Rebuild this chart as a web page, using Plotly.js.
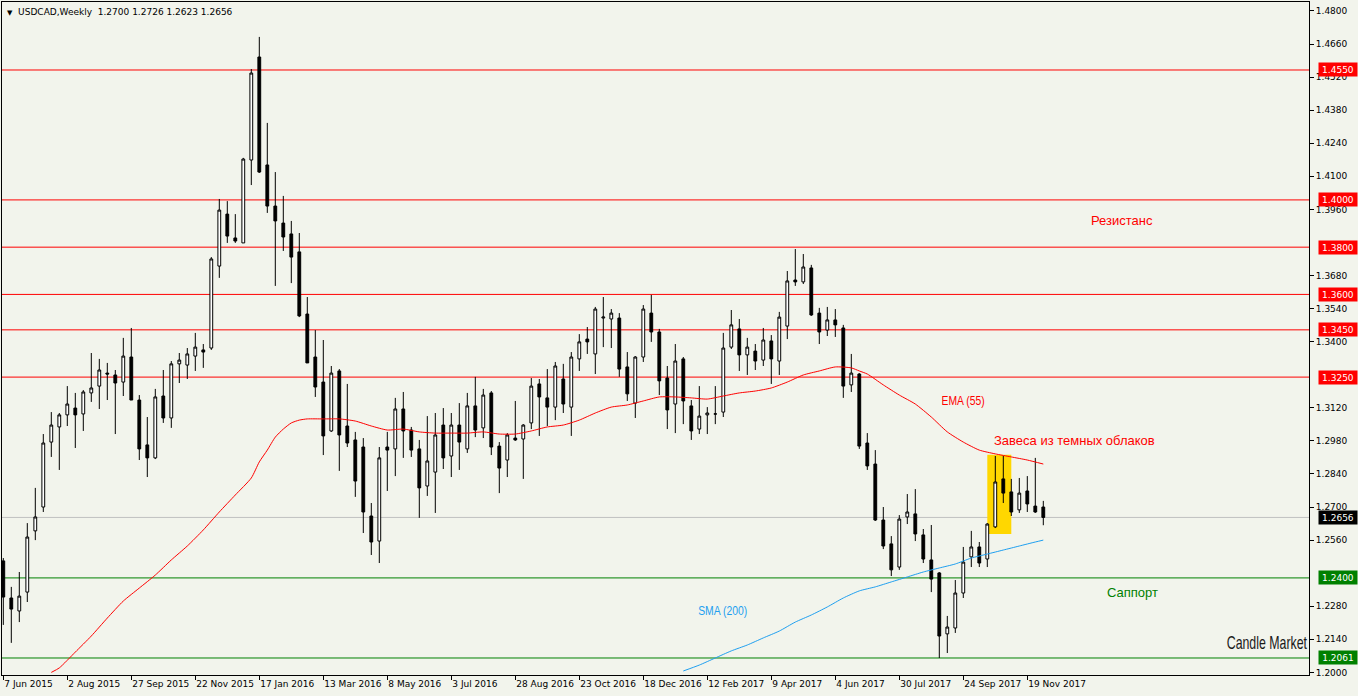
<!DOCTYPE html>
<html>
<head>
<meta charset="utf-8">
<script src="https://cdn.plot.ly/plotly-3.0.1.min.js"></script>
<style>
html,body{margin:0;padding:0;background:#F2F4EC;}
#chart{width:1358px;height:696px;}
</style>
</head>
<body>
<div id="chart"></div>
<script>
// ---- Data (weekly USDCAD candles, index 0 = week of 7 Jun 2015) ----
const opens = [
1.2472,1.2315,1.2260,1.2340,1.2599,1.2700,1.2975,1.3039,1.3090,1.3119,
1.3094,1.3183,1.3212,1.3267,1.3259,1.3229,1.3335,1.3153,1.2963,1.2908,
1.3170,1.3077,1.3306,1.3301,1.3339,1.3365,1.3373,1.3720,1.3940,1.3839,
1.3818,1.4169,1.4605,1.4148,1.3974,1.3902,1.3856,1.3780,1.3517,1.3335,
1.3229,1.3022,1.3276,1.3043,1.2984,1.2954,1.2662,1.2556,1.2954,1.2946,
1.3115,1.3026,1.2946,1.2789,1.2848,1.3047,1.2916,1.3047,1.2946,1.3128,
1.3035,1.3183,1.2958,1.2899,1.2992,1.2988,1.3056,1.3221,1.3162,1.3123,
1.3242,1.3123,1.3327,1.3411,1.3348,1.3500,1.3496,1.3500,1.3293,1.3140,
1.3335,1.3521,1.3441,1.3246,1.3136,1.3327,1.3128,1.3030,1.3090,1.3094,
1.3102,1.3377,1.3454,1.3344,1.3360,1.3322,1.3403,1.3318,1.3466,1.3661,
1.3653,1.3712,1.3521,1.3449,1.3492,1.3458,1.3217,1.3263,1.2971,1.2882,
1.2645,1.2544,1.2446,1.2658,1.2671,1.2582,1.2476,1.2421,1.2163,1.2188,
1.2336,1.2489,1.2531,1.2480,1.2616,1.2819,1.2764,1.2688,1.2768,1.2704,
1.2700];
const highs = [
1.2484,1.2362,1.2425,1.2632,1.2781,1.3009,1.3102,1.3098,1.3212,1.3183,
1.3195,1.3352,1.3327,1.3310,1.3280,1.3416,1.3458,1.3174,1.3081,1.3200,
1.3280,1.3318,1.3352,1.3373,1.3437,1.3390,1.3758,1.4004,1.3995,1.3940,
1.4178,1.4554,1.4690,1.4326,1.4118,1.4017,1.3911,1.3860,1.3589,1.3449,
1.3407,1.3297,1.3284,1.3221,1.3018,1.2992,1.2717,1.2954,1.3018,1.3162,
1.3187,1.3039,1.2984,1.3085,1.3098,1.3119,1.3098,1.3140,1.3183,1.3251,
1.3200,1.3191,1.2975,1.3013,1.3149,1.3051,1.3246,1.3242,1.3284,1.3314,
1.3306,1.3356,1.3432,1.3462,1.3547,1.3589,1.3538,1.3521,1.3356,1.3339,
1.3555,1.3598,1.3454,1.3297,1.3390,1.3335,1.3153,1.3212,1.3123,1.3212,
1.3437,1.3534,1.3496,1.3416,1.3390,1.3458,1.3428,1.3526,1.3699,1.3792,
1.3771,1.3725,1.3543,1.3547,1.3538,1.3471,1.3348,1.3267,1.3013,1.2941,
1.2700,1.2577,1.2666,1.2755,1.2776,1.2607,1.2624,1.2425,1.2239,1.2391,
1.2531,1.2599,1.2552,1.2632,1.2916,1.2916,1.2819,1.2823,1.2831,1.2908,
1.2726];
const lows = [
1.2201,1.2125,1.2213,1.2298,1.2560,1.2679,1.2912,1.2857,1.3043,1.2950,
1.3022,1.3145,1.3115,1.3153,1.3009,1.3170,1.3153,1.2899,1.2827,1.2903,
1.3056,1.3035,1.3225,1.3242,1.3276,1.3289,1.3365,1.3670,1.3818,1.3818,
1.3818,1.4063,1.4114,1.3945,1.3636,1.3784,1.3648,1.3504,1.3310,1.3166,
1.2920,1.3018,1.2853,1.2954,1.2743,1.2590,1.2497,1.2463,1.2768,1.2831,
1.2908,1.2912,1.2654,1.2747,1.2675,1.2861,1.2827,1.2857,1.2929,1.2996,
1.2992,1.2920,1.2759,1.2827,1.2980,1.2819,1.3030,1.3001,1.3043,1.3068,
1.3098,1.3001,1.3276,1.3348,1.3263,1.3377,1.3373,1.3251,1.3149,1.3077,
1.3314,1.3399,1.3174,1.3030,1.3013,1.3051,1.2984,1.3009,1.3009,1.3051,
1.3081,1.3369,1.3276,1.3259,1.3280,1.3297,1.3221,1.3259,1.3411,1.3636,
1.3644,1.3509,1.3390,1.3424,1.3420,1.3162,1.3187,1.2946,1.2857,1.2641,
1.2522,1.2408,1.2434,1.2628,1.2556,1.2463,1.2340,1.2061,1.2082,1.2167,
1.2315,1.2446,1.2446,1.2446,1.2611,1.2717,1.2662,1.2675,1.2679,1.2675,
1.2623];
const closes = [
1.2319,1.2268,1.2323,1.2573,1.2658,1.2971,1.3047,1.3090,1.3136,1.3090,
1.3187,1.3204,1.3280,1.3263,1.3225,1.3339,1.3153,1.2946,1.2908,1.3166,
1.3077,1.3306,1.3322,1.3348,1.3377,1.3356,1.3750,1.3957,1.3847,1.3826,
1.4173,1.4537,1.4118,1.3974,1.3911,1.3843,1.3758,1.3509,1.3310,1.3208,
1.3001,1.3267,1.3005,1.2971,1.2810,1.2679,1.2552,1.2908,1.2941,1.3115,
1.3022,1.2941,1.2781,1.2895,1.3005,1.2908,1.3047,1.2975,1.3128,1.3026,
1.3174,1.2954,1.2865,1.3005,1.2984,1.3047,1.3212,1.3166,1.3123,1.3297,
1.3136,1.3335,1.3399,1.3399,1.3538,1.3504,1.3521,1.3284,1.3179,1.3335,
1.3538,1.3441,1.3234,1.3111,1.3318,1.3149,1.3022,1.3085,1.3098,1.3094,
1.3373,1.3471,1.3344,1.3377,1.3318,1.3407,1.3327,1.3504,1.3657,1.3653,
1.3716,1.3513,1.3441,1.3492,1.3471,1.3212,1.3267,1.2958,1.2874,1.2645,
1.2535,1.2434,1.2649,1.2679,1.2586,1.2480,1.2395,1.2154,1.2192,1.2336,
1.2467,1.2531,1.2463,1.2628,1.2806,1.2759,1.2679,1.2759,1.2713,1.2679,
1.2656];

// EMA(55) at selected weeks
const emaWeeks = [6,7,9,11,13,15,17,19,21,23,25,27,29,31,32,33,34,35,36,37,38,40,42,44,46,48,50,52,54,56,58,60,62,64,66,68,70,72,74,76,78,80,82,84,86,88,90,92,94,96,98,100,102,104,106,107,108,110,112,114,116,118,120,122,124,126,128,130];
const emaVals  = [1.2000,1.2019,1.2086,1.2154,1.2230,1.2302,1.2357,1.2412,1.2476,1.2535,1.2603,1.2679,1.2751,1.2823,1.2891,1.2941,1.2996,1.3030,1.3056,1.3068,1.3073,1.3073,1.3073,1.3064,1.3043,1.3026,1.3030,1.3018,1.3013,1.3013,1.3013,1.3018,1.3009,1.3009,1.3022,1.3039,1.3047,1.3068,1.3098,1.3123,1.3132,1.3149,1.3166,1.3166,1.3162,1.3157,1.3170,1.3183,1.3191,1.3204,1.3229,1.3259,1.3276,1.3293,1.3289,1.3276,1.3263,1.3217,1.3174,1.3136,1.3081,1.3018,1.2975,1.2941,1.2925,1.2912,1.2899,1.2882];

// SMA(200)
const smaWeeks = [85,87,89,91,93,95,97,99,101,103,105,107,109,111,113,115,117,119,121,123,125,127,129,130];
const smaVals  = [1.2006,1.2031,1.2061,1.2091,1.2116,1.2146,1.2175,1.2213,1.2243,1.2277,1.2315,1.2345,1.2362,1.2383,1.2404,1.2425,1.2442,1.2459,1.2484,1.2501,1.2518,1.2535,1.2552,1.2560];

const redLevels = [1.4550, 1.4000, 1.3800, 1.3600, 1.3450, 1.3250];
const greenLevels = [1.2400, 1.2061];
const lastPrice = 1.2656;

const dateLabels = ['7 Jun 2015','2 Aug 2015','27 Sep 2015','22 Nov 2015','17 Jan 2016','13 Mar 2016','8 May 2016','3 Jul 2016','28 Aug 2016','23 Oct 2016','18 Dec 2016','12 Feb 2017','9 Apr 2017','4 Jun 2017','30 Jul 2017','24 Sep 2017','19 Nov 2017'];
const priceTicks = [1.4800,1.4660,1.4520,1.4380,1.4240,1.4100,1.3960,1.3680,1.3540,1.3400,1.3120,1.2980,1.2840,1.2700,1.2560,1.2280,1.2140,1.2000];

// ---- Build ----
const weeks = opens.map((_, i) => i);
const axisFont = {family: 'DejaVu Sans, sans-serif', size: 9, color: '#000'};

const traces = [
  {
    type: 'candlestick', x: weeks, open: opens, high: highs, low: lows, close: closes,
    increasing: {line: {color: '#000', width: 1}, fillcolor: '#FFFFFF'},
    decreasing: {line: {color: '#000', width: 1}, fillcolor: '#000000'},
    whiskerwidth: 0, hoverinfo: 'skip', showlegend: false
  },
  {
    type: 'scatter', mode: 'lines', x: emaWeeks, y: emaVals,
    line: {color: '#FF0000', width: 1, shape: 'spline', smoothing: 0.6}, hoverinfo: 'skip', showlegend: false
  },
  {
    type: 'scatter', mode: 'lines', x: smaWeeks, y: smaVals,
    line: {color: '#1E9FF0', width: 1, shape: 'spline', smoothing: 0.6}, hoverinfo: 'skip', showlegend: false
  }
];

const shapes = [];
redLevels.forEach(v => shapes.push({type: 'line', xref: 'paper', x0: 0, x1: 1, yref: 'y', y0: v, y1: v, line: {color: '#FF0000', width: 1}, layer: 'below'}));
greenLevels.forEach(v => shapes.push({type: 'line', xref: 'paper', x0: 0, x1: 1, yref: 'y', y0: v, y1: v, line: {color: '#008000', width: 1}, layer: 'below'}));
shapes.push({type: 'line', xref: 'paper', x0: 0, x1: 1, yref: 'y', y0: lastPrice, y1: lastPrice, line: {color: '#C0C0C0', width: 1}, layer: 'below'});
// highlight box around the dark cloud cover pattern
shapes.push({type: 'rect', xref: 'x', yref: 'y', x0: 123, x1: 126, y0: 1.2586, y1: 1.2921, fillcolor: '#FFD700', line: {width: 0}, layer: 'below'});

const annotations = [];
function priceBox(v, bg) {
  annotations.push({xref: 'paper', x: 1, xanchor: 'left', xshift: 9, yref: 'y', y: v, yanchor: 'middle',
    text: v.toFixed(4), showarrow: false, bgcolor: bg, borderpad: 1, width: 36, height: 11,
    font: {family: 'DejaVu Sans, sans-serif', size: 9, color: '#FFFFFF'}});
}
redLevels.forEach(v => priceBox(v, '#FF0000'));
greenLevels.forEach(v => priceBox(v, '#008000'));
priceBox(lastPrice, '#000000');

annotations.push({xref: 'paper', yref: 'paper', x: 0, y: 1, xanchor: 'left', yanchor: 'top', xshift: 3, yshift: -3,
  showarrow: false, align: 'left',
  text: '<span style="font-size:7px">▼</span>  USDCAD,Weekly  ' + [opens[130], highs[130], lows[130], closes[130]].map(v => v.toFixed(4)).join(' '),
  font: axisFont});

const labelFont = {family: 'Liberation Sans, Arial, sans-serif', size: 13};
annotations.push({xref: 'x', yref: 'y', x: 139.8, y: 1.3915, text: 'Резистанс', showarrow: false, font: Object.assign({}, labelFont, {color: '#FF0000'})});
annotations.push({xref: 'x', yref: 'y', x: 119.96, y: 1.3149, text: 'EMA (55)', showarrow: false, font: {family: 'Liberation Sans, sans-serif', size: 13, color: '#FF0000'}});
annotations.push({xref: 'x', yref: 'y', x: 133.96, y: 1.2980, text: 'Завеса из темных облаков', showarrow: false, font: Object.assign({}, labelFont, {color: '#FF0000'})});
annotations.push({xref: 'x', yref: 'y', x: 89.96, y: 1.2260, text: 'SMA (200)', showarrow: false, font: {family: 'Liberation Sans, sans-serif', size: 13, color: '#1E9FF0'}});
annotations.push({xref: 'x', yref: 'y', x: 141.1, y: 1.2340, text: 'Саппорт', showarrow: false, font: Object.assign({}, labelFont, {color: '#008000'})});
annotations.push({xref: 'x', yref: 'y', x: 157.96, y: 1.2125, text: 'Candle Market', showarrow: false, font: {family: 'Liberation Sans, sans-serif', size: 15, color: '#1A1A1A'}});

const layout = {
  width: 1358, height: 696,
  margin: {l: 2, r: 49, t: 2, b: 21, pad: 0},
  paper_bgcolor: '#F2F4EC', plot_bgcolor: '#F2F4EC',
  showlegend: false, boxgap: 0.5,
  xaxis: {
    range: [-0.1625, 163.2125], showgrid: false, zeroline: false,
    showline: true, mirror: true, linecolor: '#000', linewidth: 1,
    tickmode: 'array', tickvals: dateLabels.map((_, k) => k * 8), ticktext: dateLabels,
    ticks: 'outside', ticklen: 4, tickcolor: '#000', ticklabelposition: 'outside right',
    tickangle: 0, tickfont: axisFont, rangeslider: {visible: false}, fixedrange: true
  },
  yaxis: {
    side: 'right', range: [1.19890, 1.48378], showgrid: false, zeroline: false,
    showline: true, mirror: true, linecolor: '#000', linewidth: 1,
    tickmode: 'array', tickvals: priceTicks, ticktext: priceTicks.map(v => v.toFixed(4)),
    ticks: 'outside', ticklen: 4, tickcolor: '#000', tickfont: axisFont, fixedrange: true
  },
  shapes: shapes, annotations: annotations
};

// condensed look for a few labels (reference uses a narrow face)
const narrowWidths = {'EMA (55)': 43, 'SMA (200)': 49};
Plotly.newPlot('chart', traces, layout, {displayModeBar: false, staticPlot: true}).then(gd => {
  gd.querySelectorAll('.annotation-text').forEach(t => {
    const w = narrowWidths[t.textContent];
    if (w) {
      t.setAttribute('textLength', w);
      t.setAttribute('lengthAdjust', 'spacingAndGlyphs');
    }
    if (t.textContent === 'Candle Market') {
      const b = t.getBBox();
      const cx = b.x + b.width / 2, cy = b.y + b.height / 2;
      const sx = 81 / b.width, sy = 1.25;
      t.setAttribute('transform', `translate(${cx},${cy}) scale(${sx},${sy}) translate(${-cx},${-cy})`);
    }
  });
});
</script>
</body>
</html>
